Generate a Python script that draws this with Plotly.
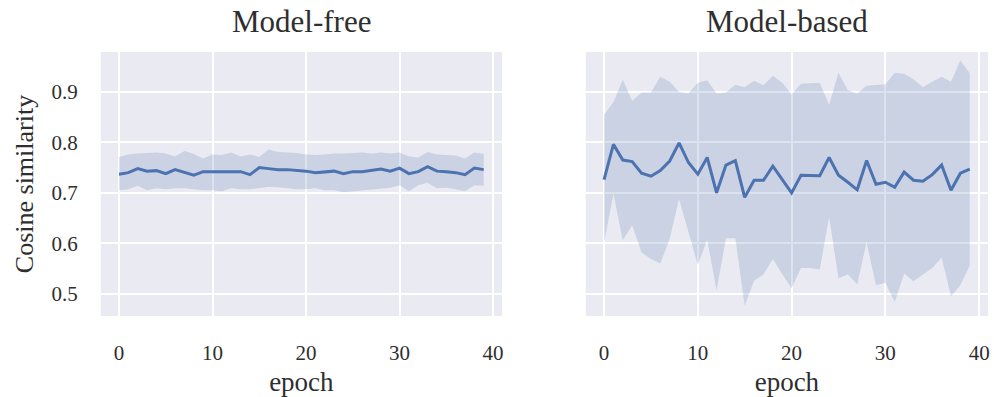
import plotly.graph_objects as go

# Per-epoch cosine similarity: mean and shaded band (lower/upper)
epochs = list(range(40))

free_mean = [0.737, 0.740, 0.748, 0.743, 0.744, 0.738, 0.746, 0.740, 0.735, 0.742,
             0.742, 0.742, 0.743, 0.742, 0.736, 0.750, 0.748, 0.746, 0.746, 0.745,
             0.743, 0.740, 0.742, 0.743, 0.738, 0.742, 0.742, 0.744, 0.747, 0.743,
             0.749, 0.738, 0.742, 0.752, 0.743, 0.742, 0.740, 0.736, 0.749, 0.746]
free_upper = [0.771, 0.776, 0.778, 0.779, 0.780, 0.778, 0.772, 0.783, 0.777, 0.768,
              0.776, 0.775, 0.780, 0.772, 0.776, 0.771, 0.786, 0.781, 0.780, 0.779,
              0.776, 0.775, 0.776, 0.778, 0.778, 0.779, 0.780, 0.778, 0.780, 0.778,
              0.780, 0.772, 0.770, 0.781, 0.776, 0.775, 0.774, 0.768, 0.780, 0.777]
free_lower = [0.705, 0.707, 0.714, 0.705, 0.709, 0.707, 0.709, 0.709, 0.707, 0.705,
              0.705, 0.703, 0.709, 0.707, 0.707, 0.710, 0.712, 0.711, 0.709, 0.707,
              0.707, 0.709, 0.705, 0.705, 0.701, 0.703, 0.705, 0.707, 0.709, 0.710,
              0.715, 0.703, 0.715, 0.720, 0.709, 0.710, 0.707, 0.703, 0.715, 0.714]

based_mean = [0.726, 0.796, 0.765, 0.762, 0.739, 0.733, 0.744, 0.763, 0.799, 0.760,
              0.737, 0.770, 0.700, 0.755, 0.764, 0.691, 0.725, 0.725, 0.753, 0.727,
              0.700, 0.735, 0.735, 0.734, 0.770, 0.735, 0.721, 0.706, 0.764, 0.717,
              0.721, 0.711, 0.741, 0.725, 0.723, 0.736, 0.755, 0.705, 0.739, 0.747]
based_upper = [0.854, 0.880, 0.924, 0.882, 0.899, 0.899, 0.930, 0.920, 0.900, 0.897,
               0.918, 0.923, 0.897, 0.899, 0.914, 0.909, 0.922, 0.913, 0.932, 0.918,
               0.895, 0.916, 0.917, 0.918, 0.874, 0.938, 0.903, 0.897, 0.912, 0.913,
               0.915, 0.938, 0.936, 0.925, 0.909, 0.920, 0.930, 0.920, 0.962, 0.937]
based_lower = [0.601, 0.698, 0.606, 0.636, 0.582, 0.569, 0.560, 0.609, 0.688, 0.622,
               0.557, 0.607, 0.507, 0.610, 0.610, 0.477, 0.526, 0.538, 0.569, 0.539,
               0.511, 0.551, 0.551, 0.548, 0.652, 0.531, 0.538, 0.519, 0.602, 0.517,
               0.522, 0.484, 0.540, 0.525, 0.538, 0.551, 0.572, 0.495, 0.517, 0.556]

panel_titles = ["Model-free", "Model-based"]
x_ticks = [0, 10, 20, 30, 40]
y_ticks = [0.5, 0.6, 0.7, 0.8, 0.9]

LINE = "#4C72B0"
BAND = "rgba(76,114,176,0.2)"
BG = "#EAEAF2"
TXT = "#2e2e2e"
FONT = "Liberation Serif"

fig = go.Figure()

panels = [(free_mean, free_lower, free_upper, "x", "y"),
          (based_mean, based_lower, based_upper, "x2", "y2")]
for mean, lo, hi, xa, ya in panels:
    fig.add_trace(go.Scatter(x=epochs, y=hi, mode="lines", line=dict(width=0),
                             hoverinfo="skip", showlegend=False, xaxis=xa, yaxis=ya))
    fig.add_trace(go.Scatter(x=epochs, y=lo, mode="lines", line=dict(width=0),
                             fill="tonexty", fillcolor=BAND, hoverinfo="skip",
                             showlegend=False, xaxis=xa, yaxis=ya))
    fig.add_trace(go.Scatter(x=epochs, y=mean, mode="lines",
                             line=dict(color=LINE, width=3),
                             showlegend=False, xaxis=xa, yaxis=ya))

xrange_ = [-1.95, 40.95]
yrange_ = [0.456, 0.979]
ydom = [0.204, 0.869]

def xaxis_cfg(domain):
    return dict(domain=domain, range=xrange_, tickvals=x_ticks, showgrid=True,
                gridcolor="white", gridwidth=1.7, zeroline=False, showline=False,
                ticks="", ticklabelstandoff=22,
                tickfont=dict(family=FONT, size=21, color=TXT),
                title=dict(text="epoch", standoff=8,
                           font=dict(family=FONT, size=27, color=TXT)))

def yaxis_cfg(anchor, labels):
    return dict(domain=ydom, range=yrange_, anchor=anchor, tickvals=y_ticks,
                showgrid=True, gridcolor="white", gridwidth=1.7, zeroline=False,
                showline=False, ticks="", showticklabels=labels,
                ticklabelstandoff=22,
                tickfont=dict(family=FONT, size=21, color=TXT))

fig.update_layout(
    width=994, height=397,
    margin=dict(l=0, r=0, t=0, b=0),
    paper_bgcolor="white", plot_bgcolor=BG,
    xaxis=xaxis_cfg([0.1016, 0.506]),
    xaxis2=xaxis_cfg([0.5905, 0.996]) | dict(anchor="y2"),
    yaxis=yaxis_cfg("x", True) | dict(
        title=dict(text="Cosine similarity", standoff=10,
                   font=dict(family=FONT, size=26, color=TXT))),
    yaxis2=yaxis_cfg("x2", False),
    font=dict(family=FONT, color=TXT),
)
fig.layout.xaxis.anchor = "y"

for name, dom in zip(panel_titles, [[0.1016, 0.506], [0.5905, 0.996]]):
    fig.add_annotation(text=name, x=(dom[0] + dom[1]) / 2, y=1 - 22 / 397,
                       xref="paper", yref="paper", showarrow=False,
                       xanchor="center", yanchor="middle",
                       font=dict(family=FONT, size=31, color=TXT))

fig.write_html("out.html")
